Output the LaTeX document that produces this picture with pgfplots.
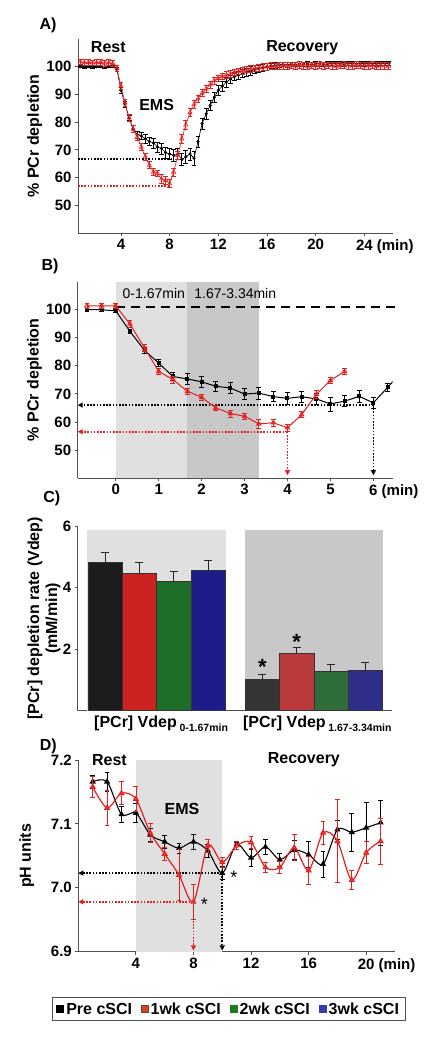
\documentclass[border=0pt]{standalone}
\usepackage{fontspec}
\setmainfont{Liberation Sans}
\usepackage{pgfplots}
\usepackage{pgfplotstable}
\pgfplotsset{compat=1.18}
\usetikzlibrary{arrows.meta}
\definecolor{myred}{HTML}{E3201F}
\definecolor{ltred}{HTML}{EE5A5A}
\definecolor{lgray}{HTML}{E0E0E0}
\definecolor{dgray}{HTML}{C8C8C8}
\definecolor{axgray}{HTML}{505050}
\definecolor{bk1}{HTML}{1C1C1C}
\definecolor{rd1}{HTML}{CC2222}
\definecolor{gn1}{HTML}{1E6E2A}
\definecolor{bl1}{HTML}{1C1C8A}
\definecolor{bk2}{HTML}{353535}
\definecolor{rd2}{HTML}{B83A3A}
\definecolor{gn2}{HTML}{2E6E3A}
\definecolor{bl2}{HTML}{2E2E88}
\definecolor{legor}{HTML}{D8421E}
\definecolor{leggn}{HTML}{1E7A22}
\definecolor{legbl}{HTML}{3A3AB0}

\pgfplotstableread[row sep=\\]{
x y e\\
0.67 100.0 0.4\\ 1.00 99.8 0.4\\ 1.33 100.1 0.4\\ 1.67 99.9 0.4\\ 2.00 100.0 0.4\\ 2.33 100.1 0.4\\ 2.67 99.9 0.4\\ 3.00 100.0 0.4\\ 3.33 100.2 0.4\\ 3.67 99.0 0.6\\
4.00 91.5 1.0\\ 4.33 86.5 1.0\\ 4.67 81.5 1.0\\ 5.00 77.5 1.2\\ 5.33 75.5 1.2\\ 5.67 75.0 1.2\\ 6.00 74.0 1.5\\ 6.33 73.0 1.5\\ 6.67 72.5 1.8\\ 7.00 71.0 1.8\\
7.33 70.5 2.0\\ 7.67 69.0 2.0\\ 8.00 68.5 2.0\\ 8.33 68.0 2.0\\ 8.67 68.5 2.0\\ 9.00 66.5 2.2\\ 9.33 67.5 2.2\\ 9.67 68.5 2.2\\ 10.00 67.0 2.5\\ 10.33 73.0 2.0\\
10.67 79.5 2.0\\ 11.00 83.0 2.0\\ 11.33 86.0 1.8\\ 11.67 89.0 1.8\\ 12.00 91.5 1.8\\ 12.33 93.0 1.8\\ 12.67 94.5 1.8\\ 13.00 95.5 1.5\\ 13.33 96.5 1.5\\ 13.67 97.0 1.5\\
14.00 97.5 1.5\\ 14.33 98.0 1.5\\ 14.67 98.5 1.5\\ 15.00 99.0 1.5\\ 15.33 99.3 1.2\\ 15.67 99.6 1.2\\ 16.00 100.0 1.2\\ 16.33 100.3 1.0\\ 16.67 100.5 1.0\\ 17.00 100.7 1.0\\
17.33 100.8 0.8\\ 17.67 100.6 0.8\\ 18.00 100.9 0.8\\ 18.33 100.8 0.8\\ 18.67 101.0 0.8\\ 19.00 100.9 0.8\\ 19.33 101.0 0.8\\ 19.67 100.8 0.8\\ 20.00 101.0 0.8\\ 20.33 101.1 0.8\\
20.67 100.9 0.8\\ 21.00 101.0 0.8\\ 21.33 101.2 0.8\\ 21.67 101.0 0.8\\ 22.00 101.1 0.8\\ 22.33 100.9 0.8\\ 22.67 101.2 0.8\\ 23.00 101.1 0.8\\ 23.33 101.0 0.8\\ 23.67 101.2 0.8\\
24.00 101.1 0.8\\ 24.33 101.3 0.8\\ 24.67 101.2 0.8\\ 25.00 101.1 0.8\\ 25.33 101.3 0.8\\ 25.67 101.2 0.8\\ 26.00 101.2 0.8\\
}\Ablack

\pgfplotstableread[row sep=\\]{
x y e\\
0.67 101.8 1.0\\ 1.00 101.5 1.0\\ 1.33 101.6 1.0\\ 1.67 101.4 1.0\\ 2.00 101.5 1.0\\ 2.33 101.6 1.0\\ 2.67 101.3 1.0\\ 3.00 101.5 1.0\\ 3.33 101.2 1.0\\ 3.67 99.5 1.0\\
4.00 93.0 1.2\\ 4.33 87.0 1.2\\ 4.67 81.5 1.2\\ 5.00 77.5 1.2\\ 5.33 74.5 1.2\\ 5.67 71.0 1.2\\ 6.00 67.5 1.2\\ 6.33 64.5 1.2\\ 6.67 62.0 1.2\\ 7.00 61.5 1.2\\
7.33 59.5 1.5\\ 7.67 59.0 1.5\\ 8.00 57.8 1.5\\ 8.33 62.0 1.5\\ 8.67 68.0 1.5\\ 9.00 74.0 1.5\\ 9.33 79.0 1.5\\ 9.67 83.5 1.5\\ 10.00 86.5 1.5\\ 10.33 88.5 1.2\\
10.67 90.5 1.2\\ 11.00 92.0 1.2\\ 11.33 93.5 1.2\\ 11.67 95.0 1.2\\ 12.00 95.8 1.2\\ 12.33 96.5 1.2\\ 12.67 97.0 1.2\\ 13.00 97.5 1.2\\ 13.33 98.0 1.2\\ 13.67 98.3 1.2\\
14.00 98.6 1.2\\ 14.33 99.0 1.2\\ 14.67 99.3 1.2\\ 15.00 99.5 1.0\\ 15.33 99.7 1.2\\ 15.67 99.9 1.2\\ 16.00 100.0 1.2\\ 16.33 100.2 1.2\\ 16.67 100.1 1.2\\ 17.00 100.3 1.2\\
17.33 100.4 1.2\\ 17.67 100.2 1.2\\ 18.00 100.5 1.2\\ 18.33 100.3 1.2\\ 18.67 100.6 1.2\\ 19.00 100.4 1.2\\ 19.33 100.2 1.2\\ 19.67 100.5 1.2\\ 20.00 100.4 1.2\\ 20.33 100.6 1.2\\
20.67 100.3 1.2\\ 21.00 100.5 1.2\\ 21.33 100.4 1.2\\ 21.67 100.2 1.2\\ 22.00 100.5 1.2\\ 22.33 100.6 1.2\\ 22.67 100.3 1.2\\ 23.00 100.4 1.2\\ 23.33 100.6 1.2\\ 23.67 100.5 1.2\\
24.00 100.3 1.2\\ 24.33 100.4 1.2\\ 24.67 100.6 1.2\\ 25.00 100.2 1.2\\ 25.33 100.4 1.2\\ 25.67 100.3 1.2\\ 26.00 100.2 1.2\\
}\Ared

\pgfplotstableread[row sep=\\]{
x y e\\
-0.67 100.0 0.5\\ -0.33 100.0 0.5\\ 0 99.6 0.6\\ 0.33 92.3 0.8\\ 0.67 85.5 1.2\\ 1 81.0 1.2\\ 1.33 76.2 1.5\\ 1.67 75.3 2.0\\ 2 74.3 1.8\\ 2.33 72.7 1.8\\
2.67 72.1 2.0\\ 3 69.9 2.0\\ 3.33 70.3 2.2\\ 3.67 69.0 1.8\\ 4 68.4 2.0\\ 4.33 69.0 2.0\\ 4.67 68.2 2.0\\ 5 66.4 2.5\\ 5.33 67.4 2.0\\ 5.67 69.1 2.0\\
6 66.8 2.0\\ 6.33 72.3 1.5\\ 6.67 78.0 1.5\\
}\Bblack

\pgfplotstableread[row sep=\\]{
x y e\\
-0.67 101.4 1.0\\ -0.33 101.4 1.0\\ 0 101.4 1.0\\ 0.33 94.9 1.2\\ 0.67 86.4 1.2\\ 1 78.0 1.2\\ 1.33 75.1 1.2\\ 1.67 70.9 1.2\\ 2 68.8 1.0\\ 2.33 65.0 1.0\\
2.67 63.0 1.2\\ 3 62.0 1.2\\ 3.33 59.3 1.5\\ 3.67 59.7 1.2\\ 4 57.9 1.2\\ 4.33 62.6 1.0\\ 4.67 69.8 1.5\\ 5 74.8 1.0\\ 5.33 78.0 1.2\\
}\Bred

\pgfplotstableread[row sep=\\]{
x y e\\
1 7.166 0.010\\ 2 7.166 0.015\\ 3 7.115 0.012\\ 4 7.117 0.015\\ 5 7.083 0.010\\ 6 7.072 0.010\\ 7 7.062 0.008\\ 8 7.072 0.012\\ 9 7.058 0.010\\ 10 7.023 0.010\\
11 7.068 0.003\\ 12 7.047 0.013\\ 13 7.064 0.012\\ 14 7.044 0.010\\ 15 7.059 0.015\\ 16 7.052 0.020\\ 17 7.037 0.020\\ 18 7.091 0.015\\ 19 7.087 0.030\\ 20 7.094 0.040\\
21 7.102 0.035\\
}\Dblack

\pgfplotstableread[row sep=\\]{
x y e\\
1 7.158 0.017\\ 2 7.125 0.028\\ 3 7.148 0.018\\ 4 7.139 0.020\\ 5 7.086 0.015\\ 6 7.053 0.010\\ 7 7.020 0.040\\ 8 6.978 0.027\\ 9 7.066 0.010\\ 10 7.040 0.008\\
11 7.066 0.006\\ 12 7.071 0.010\\ 13 7.032 0.008\\ 14 7.032 0.010\\ 15 7.063 0.020\\ 16 7.027 0.022\\ 17 7.086 0.018\\ 18 7.073 0.065\\ 19 7.012 0.015\\ 20 7.055 0.017\\
21 7.073 0.036\\
}\Dred

\tikzset{
 dots/.style={line width=1.6pt, dash pattern=on 1.6pt off 1.6pt},
 bigtxt/.style={font=\fontsize{16}{16}\selectfont\bfseries},
 arr/.style={-{Triangle[length=5pt,width=5pt]}},
}
\pgfplotsset{
 panel/.style={scale only axis, anchor=south west, axis lines*=left,
   axis line style={-, line width=0.9pt, axgray}, tick style={axgray, line width=0.8pt},
   tick align=outside, major tick length=3pt, clip mode=individual,
   ticklabel style={font=\fontsize{15}{15}\selectfont\bfseries, text=black},
   /pgf/number format/assume math mode=true},
 ylab/.style={every axis y label/.style={at={(axis description cs:#1,0.5)}, rotate=90, anchor=center,
   align=center, font=\fontsize{16}{18}\selectfont\bfseries}},
 eb/.style={/pgfplots/error bars/y dir=both, /pgfplots/error bars/y explicit,
   /pgfplots/error bars/error bar style={line width=0.7pt, solid},
   /pgfplots/error bars/error mark options={rotate=90, mark size=2.4pt, line width=0.7pt, solid}},
 cbar/.style={ybar, bar width=1, bar shift=0pt, draw=black!80, line width=0.6pt,
   /pgfplots/error bars/y dir=plus, /pgfplots/error bars/y explicit,
   /pgfplots/error bars/error bar style={line width=1pt, black!85},
   /pgfplots/error bars/error mark options={rotate=90, mark size=4pt, line width=1pt, black!85}},
}

\begin{document}
\begin{tikzpicture}
\useasboundingbox (0,0) rectangle (437pt,1038pt);

% ---------------- Panel A
\begin{axis}[panel, ylab=-0.137, at={(78pt,805pt)}, width=315pt, height=194pt,
  xmin=0.47, xmax=26.35, ymin=40, ymax=110,
  xtick={4,8,12,16,20,24}, xticklabels={4,8,12,16,20,{24\rlap{ (min)}}},
  ytick={50,60,70,80,90,100}, ylabel={\% PCr depletion}]
\draw[dots, black] (axis cs:0.47,66.8) -- (axis cs:8.3,66.8);
\draw[dots, myred] (axis cs:0.47,57) -- (axis cs:7.9,57);
\addplot[black, line width=0.6pt, mark=*, mark size=1.3pt, eb] table[x=x, y=y, y error=e] {\Ablack};
\addplot[myred, line width=0.6pt, mark=triangle, mark size=2.4pt, mark options={solid, fill=white}, eb] table[x=x, y=y, y error=e] {\Ared};
\node[bigtxt] at (axis cs:2.96,107) {Rest};
\node[bigtxt] at (axis cs:18.9,107) {Recovery};
\node[bigtxt] at (axis cs:6.93,86.2) {EMS};
\end{axis}

% ---------------- Panel B
\begin{axis}[panel, ylab=-0.137, at={(77.7pt,560pt)}, width=315pt, height=196.3pt,
  xmin=-0.886, xmax=6.45, ymin=40, ymax=110,
  xtick={0,1,2,3,4,5,6}, xticklabels={0,1,2,3,4,5,{6\rlap{ (min)}}},
  ytick={50,60,70,80,90,100}, ylabel={\% PCr depletion}]
\fill[lgray] (axis cs:0,40) rectangle (axis cs:1.67,110);
\fill[dgray] (axis cs:1.67,40) rectangle (axis cs:3.34,110);
\draw[black, line width=1.6pt, dash pattern=on 9pt off 6pt] (axis cs:0,101) -- (axis cs:6.58,101);
\node[anchor=west, font=\fontsize{14}{14}\selectfont] at (axis cs:0.08,105.9) {0-1.67min};
\node[anchor=west, font=\fontsize{14}{14}\selectfont] at (axis cs:1.75,105.9) {1.67-3.34min};
\draw[dots, black, arr] (axis cs:6,66) -- (axis cs:-0.886,66);
\draw[dots, black, arr] (axis cs:6,66) -- (axis cs:6,41);
\draw[dots, myred, arr] (axis cs:4,56.5) -- (axis cs:-0.886,56.5);
\draw[dots, myred, arr] (axis cs:4,56.5) -- (axis cs:4,41);
\addplot[black, line width=1pt, mark=square*, mark size=1.5pt, eb] table[x=x, y=y, y error=e] {\Bblack};
\addplot[myred, line width=1pt, mark=triangle, mark size=2.4pt, mark options={solid, fill=white}, eb] table[x=x, y=y, y error=e] {\Bred};
\end{axis}

% ---------------- Panel C
\begin{axis}[panel, ylab=-0.107, at={(77.7pt,327.3pt)}, width=314pt, height=184.7pt,
  xmin=0, xmax=9.15, ymin=0, ymax=6, xtick=\empty, ytick={2,4,6},
  ylabel={[PCr] depletion rate (Vdep)\\(mM/min)}]
\fill[lgray] (axis cs:0.27,0) rectangle (axis cs:4.31,5.87);
\fill[dgray] (axis cs:4.88,0) rectangle (axis cs:8.9,5.87);
\addplot[cbar, fill=bk1] coordinates {(0.8,4.81) +- (0,0.33)};
\addplot[cbar, fill=rd1] coordinates {(1.8,4.45) +- (0,0.35)};
\addplot[cbar, fill=gn1] coordinates {(2.8,4.20) +- (0,0.32)};
\addplot[cbar, fill=bl1] coordinates {(3.8,4.57) +- (0,0.31)};
\addplot[cbar, fill=bk2] coordinates {(5.38,1.02) +- (0,0.17)};
\addplot[cbar, fill=rd2] coordinates {(6.38,1.86) +- (0,0.18)};
\addplot[cbar, fill=gn2] coordinates {(7.38,1.27) +- (0,0.22)};
\addplot[cbar, fill=bl2] coordinates {(8.38,1.32) +- (0,0.25)};
\node[anchor=north, inner sep=0pt, font=\fontsize{22}{22}\selectfont\bfseries] at (axis cs:5.38,1.67) {*};
\node[anchor=north, inner sep=0pt, font=\fontsize{22}{22}\selectfont\bfseries] at (axis cs:6.38,2.48) {*};
\node[anchor=north, bigtxt, yshift=-2pt] at (axis cs:2.43,0) {[PCr] Vdep\,\raisebox{-4pt}{\fontsize{10.5}{10.5}\selectfont 0-1.67min}};
\node[anchor=north, bigtxt, yshift=-2pt] at (axis cs:6.98,0) {[PCr] Vdep\,\raisebox{-4pt}{\fontsize{10.5}{10.5}\selectfont 1.67-3.34min}};
\end{axis}

% ---------------- Panel D
\begin{axis}[panel, ylab=-0.163, at={(78.3pt,86.3pt)}, width=316.7pt, height=191.7pt,
  xmin=0, xmax=22, ymin=6.9, ymax=7.2,
  xtick={4,8,12,16,20}, xticklabels={4,8,12,16,{20\rlap{ (min)}}},
  ytick={6.9,7.0,7.1,7.2},
  yticklabel style={/pgf/number format/.cd, fixed, fixed zerofill, precision=1},
  ylabel={pH units},
  legend style={at={(axis description cs:0.475,-0.30)}, anchor=center, legend columns=4,
    draw=axgray, line width=0.8pt, font=\fontsize{16}{16}\selectfont\bfseries,
    inner xsep=4pt, inner ysep=3pt, /tikz/every even column/.append style={column sep=7pt}},
  legend image code/.code={\path[#1] (0pt,-3.5pt) rectangle (7pt,3.5pt);}]
\fill[lgray] (axis cs:4,6.9) rectangle (axis cs:10,7.2);
\draw[dots, black, arr] (axis cs:10,7.023) -- (axis cs:0,7.023);
\draw[dots, black, arr] (axis cs:10,7.023) -- (axis cs:10,6.902);
\draw[dots, myred, arr] (axis cs:8,6.978) -- (axis cs:0,6.978);
\draw[dots, myred, arr] (axis cs:8,6.978) -- (axis cs:8,6.902);
\addplot[forget plot, black, line width=1.1pt, smooth, mark=triangle*, mark size=2.5pt, mark options={solid}, eb] table[x=x, y=y, y error=e] {\Dblack};
\addplot[forget plot, myred, line width=1.2pt, smooth, mark=triangle*, mark size=2.5pt, mark options={solid, fill=ltred}, eb] table[x=x, y=y, y error=e] {\Dred};
\node[bigtxt] at (axis cs:2.16,7.2) {Rest};
\node[bigtxt] at (axis cs:15.67,7.2) {Recovery};
\node[bigtxt] at (axis cs:7.2,7.124) {EMS};
\node[anchor=north, inner sep=0pt, font=\fontsize{18}{18}\selectfont] at (axis cs:10.8,7.026) {*};
\node[anchor=north, inner sep=0pt, font=\fontsize{18}{18}\selectfont] at (axis cs:8.76,6.984) {*};
\addlegendimage{fill=black, draw=black}
\addlegendentry{Pre cSCI}
\addlegendimage{fill=legor, draw=black!70, line width=0.5pt}
\addlegendentry{1wk cSCI}
\addlegendimage{fill=leggn, draw=leggn}
\addlegendentry{2wk cSCI}
\addlegendimage{fill=legbl, draw=legbl}
\addlegendentry{3wk cSCI}
\end{axis}

\node[bigtxt] at (48pt,1013pt) {A)};
\node[bigtxt] at (50pt,771.3pt) {B)};
\node[bigtxt] at (51.7pt,539.7pt) {C)};
\node[bigtxt] at (48.3pt,291.3pt) {D)};
\end{tikzpicture}
\end{document}
